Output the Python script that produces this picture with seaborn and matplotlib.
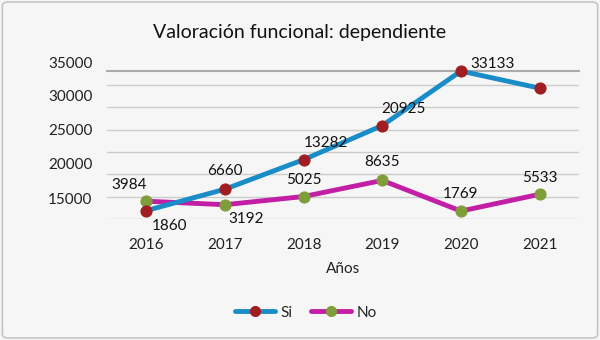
import matplotlib
matplotlib.use("Agg")
import matplotlib.pyplot as plt
import matplotlib.transforms as mtransforms
import seaborn as sns
import pandas as pd
from matplotlib.lines import Line2D
from matplotlib.patches import FancyBboxPatch

years = ["2016", "2017", "2018", "2019", "2020", "2021"]
si_values = [1860, 6660, 13282, 20925, 33133, 29300]
no_values = [3984, 3192, 5025, 8635, 1769, 5533]
si_labels = ["1860", "6660", "13282", "20925", "33133", None]
no_labels = ["3984", "3192", "5025", "8635", "1769", "5533"]
ytick_labels = ["15000", "20000", "25000", "30000", "35000"]
ylabel_pos = [4200, 12000, 19800, 27400, 34700]
grid_vals = [0, 5000, 10000, 15000, 20000, 25000, 30000]

sns.set_theme(style="white")
plt.rcParams["font.family"] = ["Lato", "DejaVu Sans"]

bg = "#f6f6f6"
fig = plt.figure(figsize=(6, 3.4), dpi=100, facecolor=bg)
ax = fig.add_axes([0.178, 0.356, 0.787, 0.435])
ax.set_facecolor(bg)

df = pd.DataFrame({"x": list(range(len(years))) * 2,
                   "v": si_values + no_values,
                   "s": ["Si"] * 6 + ["No"] * 6})

styles = {
    "Si": dict(color="#1a8cc8", mfc="#a01e22"),
    "No": dict(color="#c21fa6", mfc="#7f9e3a"),
}
for name in ["No", "Si"]:
    st = styles[name]
    sns.lineplot(data=df[df.s == name], x="x", y="v", ax=ax, color=st["color"],
                 lw=3.5, marker="o", markersize=8, markerfacecolor=st["mfc"],
                 markeredgecolor=st["mfc"], legend=False, zorder=3,
                 clip_on=False)

ax.set_xticks(range(len(years)))
ax.set_xticklabels(years, fontsize=11, color="#222222")
ax.set_yticks(grid_vals)
ax.set_yticklabels([])
ax.set_xlim(-0.5, 5.5)
ax.set_ylim(0, 33133)
ax.tick_params(axis="y", which="both", length=0)
ax.tick_params(axis="x", length=0, pad=14)
ax.yaxis.grid(True, which="major", color="#cccccc", lw=1)
ax.xaxis.grid(False)
for sp in ["left", "right", "bottom"]:
    ax.spines[sp].set_visible(False)
ax.spines["top"].set_color("#ababab")
ax.spines["top"].set_linewidth(1.5)
ax.set_xlabel("Años", fontsize=11, color="#222222", labelpad=7)
ax.set_ylabel("")

# y-axis labels as they appear (offset from gridlines in the original)
trans = mtransforms.blended_transform_factory(ax.transAxes, ax.transData)
for lab, pos in zip(ytick_labels, ylabel_pos):
    ax.text(-0.03, pos, lab, transform=trans, ha="right", va="center",
            fontsize=11, color="#222222", clip_on=False)

si_off = [(17, -11), (0, 13), (16, 12), (15, 12), (23, 5), None]
no_off = [(-12, 12), (15, -10), (0, 12), (0, 13), (0, 12), (0, 12)]
for i in range(len(years)):
    if si_labels[i]:
        ax.annotate(si_labels[i], (i, si_values[i]), xytext=si_off[i],
                    textcoords="offset points", ha="center", va="center",
                    fontsize=11, color="#111111", zorder=4)
    ax.annotate(no_labels[i], (i, no_values[i]), xytext=no_off[i],
                textcoords="offset points", ha="center", va="center",
                fontsize=11, color="#111111", zorder=4)

fig.text(0.5, 0.905, "Valoración funcional: dependiente", ha="center",
         va="center", fontsize=14, color="#111111")

handles = [Line2D([], [], color=styles[n]["color"], lw=3.5, marker="o",
                  markersize=7, markerfacecolor=styles[n]["mfc"],
                  markeredgecolor=styles[n]["mfc"]) for n in ["Si", "No"]]
fig.legend(handles, ["Si", "No"], loc="center", bbox_to_anchor=(0.51, 0.08),
           ncol=2, frameon=False, fontsize=11, handlelength=2.6,
           columnspacing=1.2, handletextpad=0.4)

border = FancyBboxPatch((0.004, 0.006), 0.992, 0.988,
                        boxstyle="round,pad=0,rounding_size=0.01",
                        transform=fig.transFigure, facecolor="none",
                        edgecolor="#c4c4c4", lw=1.2)
fig.patches.append(border)

fig.savefig("out.png", dpi=100, facecolor=bg)
